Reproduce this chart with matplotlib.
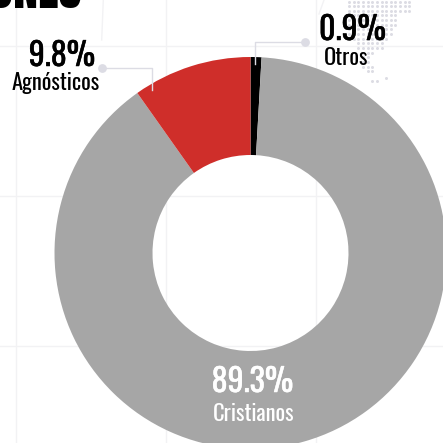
import matplotlib
matplotlib.use("Agg")
import matplotlib.pyplot as plt
import matplotlib.patheffects as pe

labels = ["Otros", "Cristianos", "Agnósticos"]
values = [0.9, 89.3, 9.8]
colors = ["#000000", "#a6a6a6", "#cf2e2a"]
pct_text = ["0.9%", "89.3%", "9.8%"]

# dotted map in the corner: row number, first column, last column
map_rows = [(0, 0, 13), (1, 0, 13), (2, 0, 13), (3, 0, 10), (4, 0, 10), (5, 0, 10),
            (6, 0, 9), (7, 0, 9), (8, 1, 8), (9, 2, 7), (10, 2, 7), (11, 3, 5),
            (12, 3, 4), (13, 3, 4), (14, 3, 5), (15, 4, 5), (17, 5, 6)]

font = ["Oswald", "DejaVu Sans"]
line_col = "#dcdce4"
grid_col = "#f2f2f4"


def flip(y):
    return 443 - y


def heavy(col):
    # the file only has the regular weight, thicken the big numbers a little
    return [pe.withStroke(linewidth=0.35, foreground=col)]


fig = plt.figure(figsize=(4.43, 4.43), dpi=100, facecolor="white")
ax = fig.add_axes([0, 0, 1, 1])

# faint background grid
for x in [16.5, 166.5, 316.5]:
    ax.plot([x, x], [0, 443], color=grid_col, lw=1, zorder=0)
for y in [46, 196, 346]:
    ax.plot([0, 443], [flip(y), flip(y)], color=grid_col, lw=1, zorder=0)
ax.plot([103.3, 101.7], [flip(0), flip(40)], color=grid_col, lw=1, zorder=0)
ax.plot([324, 319], [flip(0), flip(14)], color=grid_col, lw=1, zorder=0)

for row, first, last in map_rows:
    xs = [349 + 4.65 * c for c in range(first, last + 1)]
    ys = [flip(1.5 + 4.65 * row)] * len(xs)
    ax.scatter(xs, ys, s=4.7, color=line_col, linewidths=0, zorder=1)
ax.scatter([386], [flip(77.5)], s=4.7, color=line_col, linewidths=0, zorder=1)

ax.pie(values, colors=colors, startangle=90, counterclock=False,
       radius=196, center=(250.5, flip(253)), frame=True,
       wedgeprops={"width": 98, "linewidth": 0})

# leader lines
ax.plot([102, 152.5, 152.5], [flip(68), flip(68), flip(90)], color=line_col, lw=1, zorder=5)
ax.scatter([102], [flip(68)], s=40, color=line_col, linewidths=0, zorder=5)
ax.plot([305, 254.7, 254.7], [flip(42), flip(42), flip(64)], color=line_col, lw=1, zorder=5)
ax.scatter([305], [flip(42)], s=40, color=line_col, linewidths=0, zorder=5)

ax.text(82, flip(7.5), "RELIGIONES", family=["Anton", "DejaVu Sans"], fontsize=36, ha="right",
        va="baseline", color="black", zorder=6)

ax.text(352.5, flip(40), pct_text[0], family=font, fontsize=23, ha="center", va="baseline",
        color="black", zorder=6, path_effects=heavy("black"))
ax.text(346.5, flip(65), labels[0], family=font, fontsize=16.2, ha="center", va="baseline", color="black", zorder=6)
ax.text(62, flip(66), pct_text[2], family=font, fontsize=23, ha="center", va="baseline",
        color="black", zorder=6, path_effects=heavy("black"))
ax.text(56, flip(90), labels[2], family=font, fontsize=16.2, ha="center", va="baseline", color="black", zorder=6)
ax.text(252.5, flip(392), pct_text[1], family=font, fontsize=23, ha="center", va="baseline",
        color="white", zorder=6, path_effects=heavy("white"))
ax.text(253.5, flip(421), labels[1], family=font, fontsize=16.2, ha="center", va="baseline", color="white", zorder=6)

ax.set_xlim(0, 443)
ax.set_ylim(0, 443)
ax.set_aspect("auto")
ax.set_axis_off()

fig.savefig("out.png", dpi=100, facecolor="white")
